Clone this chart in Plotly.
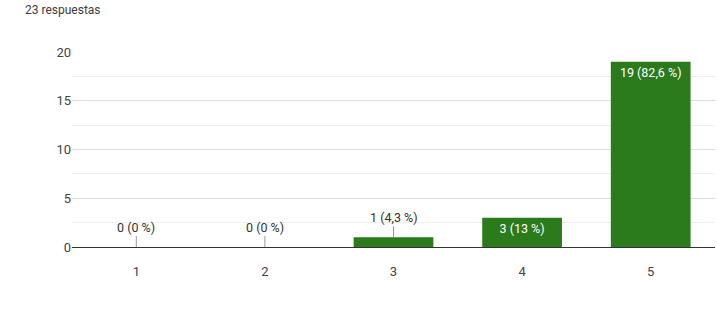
import plotly.graph_objects as go

categories = ["1", "2", "3", "4", "5"]
counts = [0, 0, 1, 3, 19]
percents = ["0 %", "0 %", "4,3 %", "13 %", "82,6 %"]
title_text = "23 respuestas"
y_ticks = [0, 5, 10, 15, 20]

W, H = 717, 329
ML, MR, MT, MB = 72, 2, 52, 82
PW, PH = W - ML - MR, H - MT - MB
bar_color = "#2b7a1c"
labels = [f"{c} ({p})" for c, p in zip(counts, percents)]
inside = [c >= 3 for c in counts]

fig = go.Figure()
fig.add_trace(go.Bar(
    x=categories, y=counts,
    marker=dict(color=bar_color, line=dict(width=0)),
    width=0.62,
    text=[l if i else "" for l, i in zip(labels, inside)],
    textposition="inside", insidetextanchor="end",
    textfont=dict(color="white", size=12.5, family="Roboto"),
    constraintext="none",
    hoverinfo="skip",
))

annotations = []
for idx, (c, l, i) in enumerate(zip(counts, labels, inside)):
    if not i:
        annotations.append(dict(
            x=idx, y=c, xref="x", yref="y", text=l,
            showarrow=True, arrowhead=0, arrowwidth=1, arrowcolor="#999999",
            ax=0, ay=-20, font=dict(size=12.5, color="#333333", family="Roboto"),
        ))
annotations.append(dict(
    x=(23 - ML) / PW, y=1 + (MT - 10) / PH, xref="paper", yref="paper",
    text=title_text, showarrow=False,
    font=dict(size=12, color="#3c3c3c", family="Roboto"),
    xanchor="left", yanchor="middle",
))

fig.update_layout(
    width=W, height=H,
    margin=dict(l=ML, r=MR, t=MT, b=MB),
    plot_bgcolor="white", paper_bgcolor="white",
    showlegend=False,
    font=dict(family="Roboto", size=12, color="#444444"),
    annotations=annotations,
)
fig.update_yaxes(
    range=[0, 20], tickvals=y_ticks, showgrid=True, gridcolor="#dddddd",
    zeroline=True, zerolinecolor="#333333", zerolinewidth=1,
    minor=dict(dtick=2.5, showgrid=True, gridcolor="#eeeeee"),
    tickfont=dict(size=13, color="#444444"), ticks="", fixedrange=True,
)
fig.update_xaxes(
    showgrid=False, ticks="", ticklabelstandoff=12,
    tickfont=dict(size=13, color="#444444"),
    showline=True, linecolor="#333333", linewidth=1,
)
fig.write_html(
    "out.html",
    config={"displayModeBar": False},
    post_script="document.body.style.margin='0';document.body.style.overflow='hidden';",
)
